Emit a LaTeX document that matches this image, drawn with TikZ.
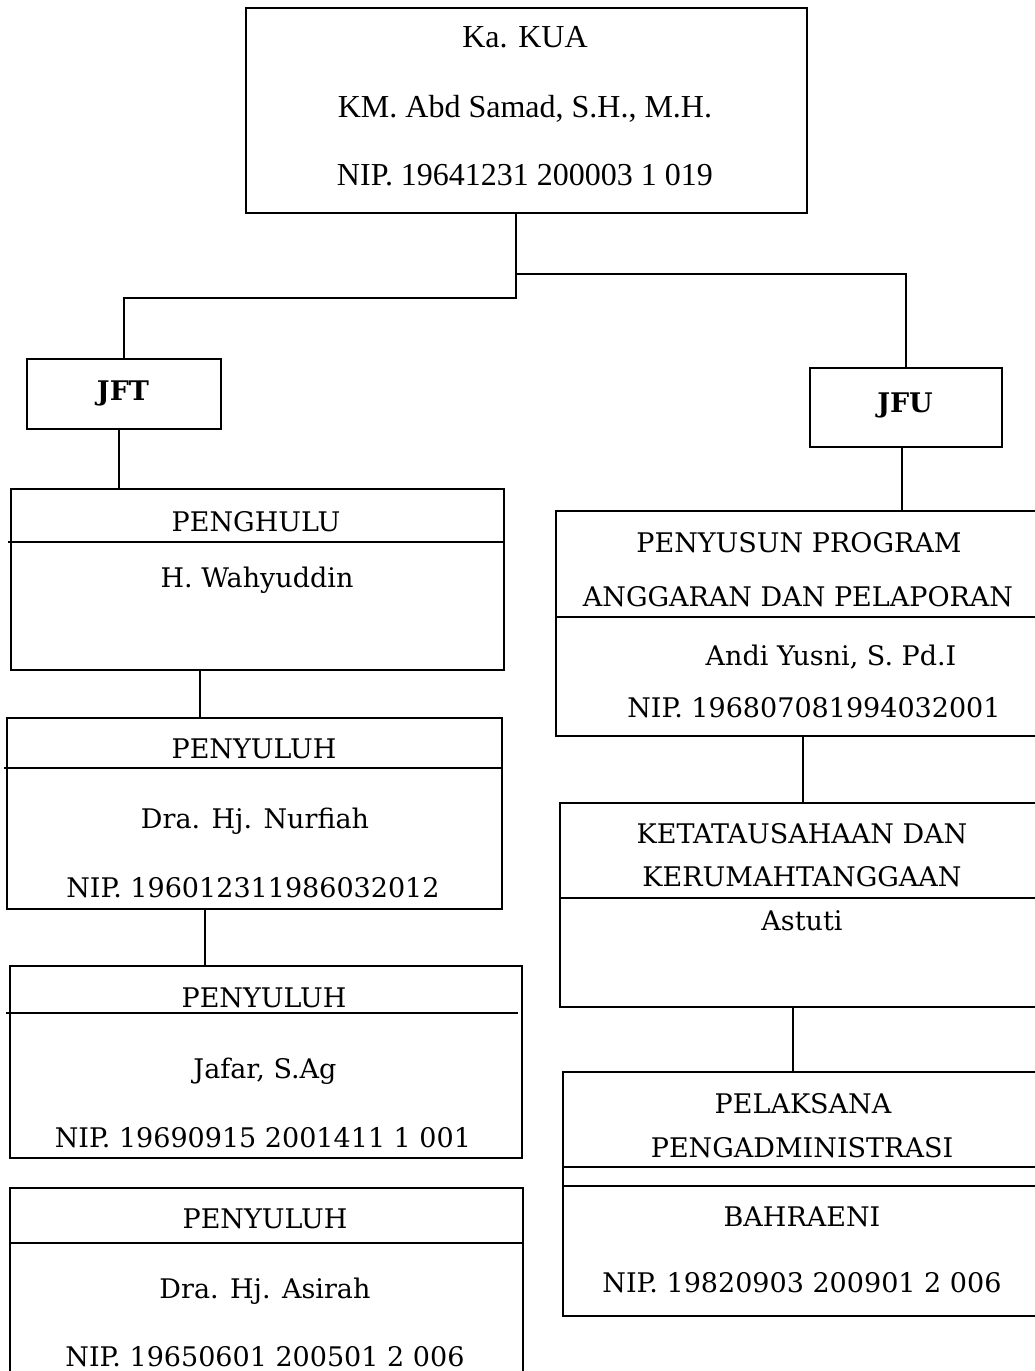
\documentclass[tikz,border=0pt]{standalone}
\usepackage{fontspec}
\setmainfont{DejaVu Serif}
\newfontfamily\timesf{Liberation Serif}
\begin{document}
\begin{tikzpicture}[x=1pt,y=-1pt,
  box/.style={draw=black, line width=1.8pt, inner sep=0pt, anchor=north west},
  divline/.style={draw=black, line width=1.5pt},
  conn/.style={draw=black, line width=1.4pt},
  txt/.style={inner sep=0pt, anchor=base, font=\fontsize{27}{32}\selectfont},
  ttxt/.style={inner sep=0pt, anchor=base, font=\timesf\fontsize{32}{36}\selectfont},
  btxt/.style={inner sep=0pt, anchor=base, font=\bfseries\fontsize{27}{32}\selectfont}]
\path[use as bounding box, fill=white] (0,0) rectangle (1034,1371);

% boxes
\node[box, minimum width=561pt, minimum height=205pt] (top) at (245,7) {};
\node[box, minimum width=194pt, minimum height=70pt] (jft) at (26,358) {};
\node[box, minimum width=192pt, minimum height=79pt] (jfu) at (809,367) {};
\node[box, minimum width=493pt, minimum height=181pt] (pg) at (10,488) {};
\node[box, minimum width=495pt, minimum height=191pt] (ny1) at (6,717) {};
\node[box, minimum width=512pt, minimum height=192pt] (ny2) at (9,965) {};
\node[box, minimum width=513pt, minimum height=200pt] (ny3) at (9,1187) {};
\node[box, minimum width=490pt, minimum height=225pt] (ps) at (555,510) {};
\node[box, minimum width=486pt, minimum height=204pt] (kt) at (559,802) {};
\node[box, minimum width=483pt, minimum height=244pt] (pl) at (562,1071) {};

% dividers
\draw[divline] (8,542) -- (pg.east |- 0,542);
\draw[divline] (4,768) -- (ny1.east |- 0,768);
\draw[divline] (6,1013) -- (518,1013);
\draw[divline] (ny3.west |- 0,1243) -- (ny3.east |- 0,1243);
\draw[divline] (ps.west |- 0,617) -- (ps.east |- 0,617);
\draw[divline] (kt.west |- 0,898) -- (kt.east |- 0,898);
\draw[divline] (pl.west |- 0,1167) -- (pl.east |- 0,1167);
\draw[divline] (pl.west |- 0,1186) -- (pl.east |- 0,1186);

% connectors
\coordinate (c1) at (516,298);
\coordinate (c2) at (516,274);
\coordinate (c3) at (119,0);
\coordinate (c4) at (200,0);
\coordinate (c5) at (205,0);
\coordinate (c6) at (902,0);
\coordinate (c7) at (803,0);
\coordinate (c8) at (793,0);
\draw[conn] (top.south -| c1) -- (c1) -| (jft.north);
\draw[conn] (c2) -| (jfu.north);
\draw[conn] (jft.south -| c3) -- (pg.north -| c3);
\draw[conn] (pg.south -| c4) -- (ny1.north -| c4);
\draw[conn] (ny1.south -| c5) -- (ny2.north -| c5);
\draw[conn] (jfu.south -| c6) -- (ps.north -| c6);
\draw[conn] (ps.south -| c7) -- (kt.north -| c7);
\draw[conn] (kt.south -| c8) -- (pl.north -| c8);

% texts
\node[ttxt] (t1) at (525,47) {Ka. KUA};
\node[ttxt] (t2) at (525,117) {KM. Abd Samad, S.H., M.H.};
\node[ttxt] (t3) at (525,185) {NIP. 19641231 200003 1 019};

\node[btxt] (jftt) at (123,400) {JFT};
\node[btxt] (jfut) at (905,412) {JFU};

\node[txt] (pg1) at (256,531) {PENGHULU};
\node[txt] (pg2) at (257,587) {H. Wahyuddin};

\node[txt] (a1) at (254,758) {PENYULUH};
\node[txt] (a2) at (255,828) {Dra. Hj. Nurfiah};
\node[txt] (a3) at (253,897) {NIP. 196012311986032012};

\node[txt] (b1) at (264,1007) {PENYULUH};
\node[txt] (b2) at (265,1078) {Jafar, S.Ag};
\node[txt] (b3) at (263,1147) {NIP. 19690915 2001411 1 001};

\node[txt] (d1) at (265,1228) {PENYULUH};
\node[txt] (d2) at (265,1298) {Dra. Hj. Asirah};
\node[txt] (d3) at (265,1366) {NIP. 19650601 200501 2 006};

\node[txt] (p1) at (799,552) {PENYUSUN PROGRAM};
\node[txt] (p2) at (798,606) {ANGGARAN DAN PELAPORAN};
\node[txt] (p3) at (831,665) {Andi Yusni, S. Pd.I};
\node[txt] (p4) at (814,717) {NIP. 196807081994032001};

\node[txt] (k1) at (802,843) {KETATAUSAHAAN DAN};
\node[txt] (k2) at (802,886) {KERUMAHTANGGAAN};
\node[txt] (k3) at (802,930) {Astuti};

\node[txt] (l1) at (803,1113) {PELAKSANA};
\node[txt] (l2) at (802,1157) {PENGADMINISTRASI};
\node[txt] (l3) at (802,1226) {BAHRAENI};
\node[txt] (l4) at (802,1292) {NIP. 19820903 200901 2 006};
\end{tikzpicture}
\end{document}
